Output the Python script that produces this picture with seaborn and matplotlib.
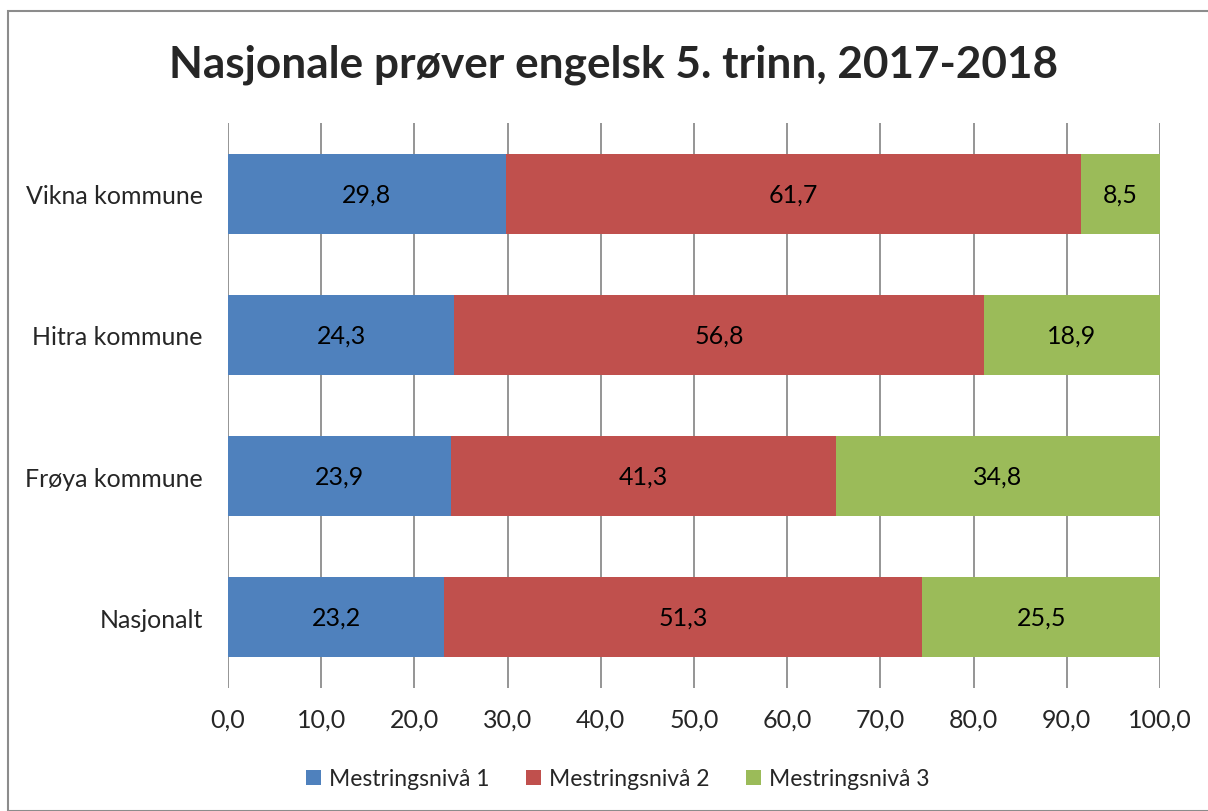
import numpy as np
import pandas as pd
import matplotlib
matplotlib.use("Agg")
import matplotlib.pyplot as plt
import seaborn as sns
from matplotlib.patches import Rectangle, Patch

# Dados
kommuner = ["Vikna kommune", "Hitra kommune", "Frøya kommune", "Nasjonalt"]
nivaa_1 = [29.8, 24.3, 23.9, 23.2]
nivaa_2 = [61.7, 56.8, 41.3, 51.3]
nivaa_3 = [8.5, 18.9, 34.8, 25.5]
serier = ["Mestringsnivå 1", "Mestringsnivå 2", "Mestringsnivå 3"]
farger = ["#4F81BD", "#C0504D", "#9BBB59"]
x_ticks = [0, 10, 20, 30, 40, 50, 60, 70, 80, 90, 100]

sns.set_theme(style="white")
plt.rcParams["font.family"] = ["Lato", "DejaVu Sans"]

df = pd.DataFrame({"kommune": kommuner, "n1": nivaa_1, "n2": nivaa_2, "n3": nivaa_3})
df["c1"] = df["n1"]
df["c2"] = df["n1"] + df["n2"]
df["c3"] = df["c2"] + df["n3"]

fig = plt.figure(figsize=(12.08, 8.12), dpi=100)
ax = fig.add_axes([228 / 1208, 1 - 689 / 812, 932 / 1208, 565 / 812])

# gridlines atrás das barras
for t in x_ticks:
    ax.axvline(t, color="#8C8C8C", lw=1.3, zorder=0)

# barras empilhadas: desenha a soma acumulada de trás para frente
for col, cor in zip(["c3", "c2", "c1"], farger[::-1]):
    sns.barplot(data=df, y="kommune", x=col, order=kommuner, color=cor,
                width=0.567, saturation=1, edgecolor="none", ax=ax, zorder=2)

# rótulos nos segmentos
for i, row in df.iterrows():
    starts = [0, row["c1"], row["c2"]]
    vals = [row["n1"], row["n2"], row["n3"]]
    for s, v in zip(starts, vals):
        ax.text(s + v / 2, i, f"{v:.1f}".replace(".", ","), ha="center", va="center",
                fontsize=18, color="black", zorder=3)

ax.set_xlim(0, 100)
ax.set_ylim(3.5, -0.5)
ax.set_xticks(x_ticks)
ax.set_xticklabels([f"{t:.1f}".replace(".", ",") for t in x_ticks], fontsize=18)
ax.tick_params(axis="x", length=0, pad=14)
ax.tick_params(axis="y", length=0, pad=18, labelsize=18)
ax.set_xlabel("")
ax.set_ylabel("")
for sp in ax.spines.values():
    sp.set_visible(False)

fig.text(0.508, 1 - 65 / 812, "Nasjonale prøver engelsk 5. trinn, 2017-2018",
         ha="center", va="center", fontsize=31.8, fontweight="bold")

handles = [Patch(facecolor=c, edgecolor="none") for c in farger]
fig.legend(handles, serier, loc="center", bbox_to_anchor=(618 / 1208, 1 - 780 / 812),
           ncol=3, frameon=False, fontsize=16.5, handlelength=0.65, handleheight=0.65,
           handletextpad=0.35, columnspacing=1.6)

# moldura em volta da figura
fig.patches.append(Rectangle((8 / 1208, 0), 1 - 8 / 1208 + 0.01, 1 - 12 / 812,
                             transform=fig.transFigure, fill=False,
                             edgecolor="#8C8C8C", lw=1.5))

fig.savefig("out.png", dpi=100)
